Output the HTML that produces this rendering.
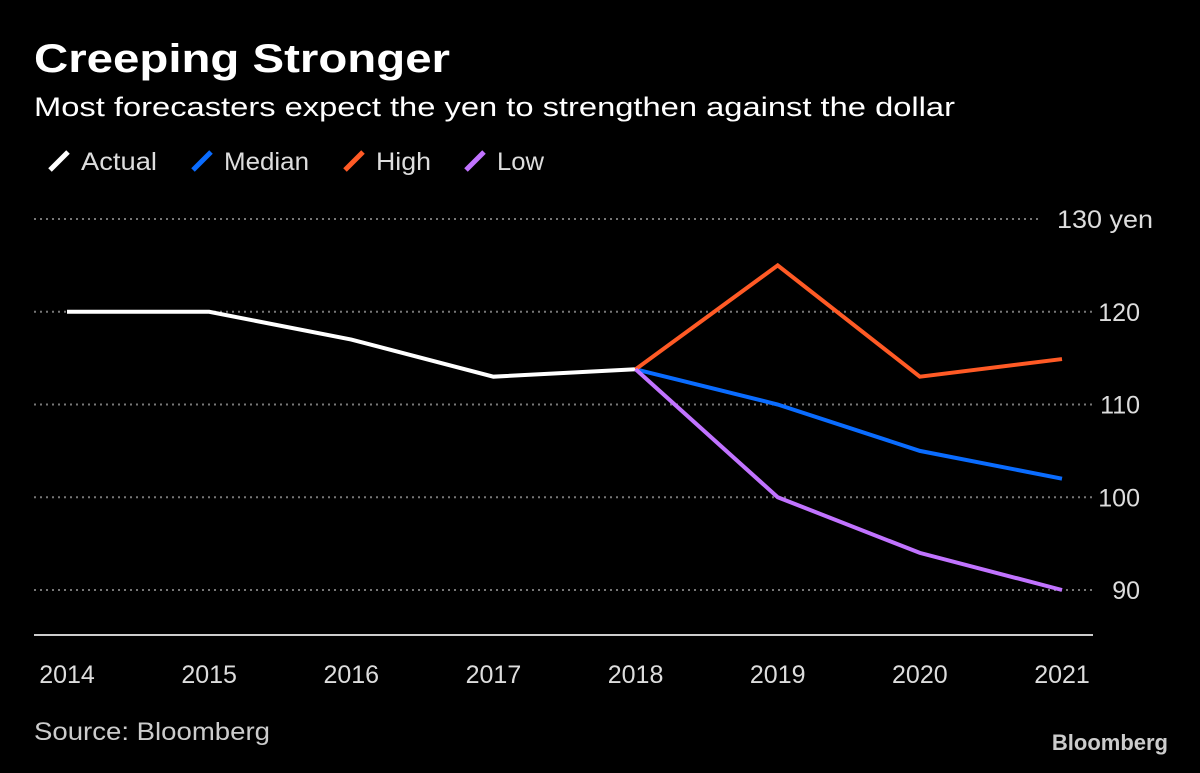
<!DOCTYPE html>
<html><head><meta charset="utf-8"><style>
body{margin:0;background:#000;width:1200px;height:768px;overflow:hidden;font-family:"Liberation Sans",sans-serif;color:#fff}
</style></head><body>
<svg width="1200" height="768" xmlns="http://www.w3.org/2000/svg">
<text x="34" y="72" font-size="40" font-weight="bold" fill="#fff" textLength="416" lengthAdjust="spacingAndGlyphs">Creeping Stronger</text>
<text x="34" y="116" font-size="27" fill="#fff" textLength="921" lengthAdjust="spacingAndGlyphs">Most forecasters expect the yen to strengthen against the dollar</text>
<g id="legend" font-size="25" fill="#ddd"></g>
<g id="grid"></g><g id="lines"></g><g id="xt"></g>
<line x1="34" x2="1093" y1="635" y2="635" stroke="#ccc" stroke-width="2"/>
<text x="34" y="740" font-size="25" fill="#ccc" textLength="236" lengthAdjust="spacingAndGlyphs">Source: Bloomberg</text>
<text x="1168" y="750" font-size="22" font-weight="bold" fill="#ccc" text-anchor="end">Bloomberg</text>
</svg>
<script>
const years=[2014,2015,2016,2017,2018,2019,2020,2021];
const yTicks=[90,100,110,120,130];
const actual=[120,120,117,113,113.8,null,null,null];
const median=[null,null,null,null,113.8,110,105,102];
const high=[null,null,null,null,113.8,125,113,114.9];
const low=[null,null,null,null,113.8,100,94,90];
const series=[["Actual",actual,"#ffffff"],["Median",median,"#0a6cff"],["High",high,"#ff5a25"],["Low",low,"#c173ff"]];
const NS="http://www.w3.org/2000/svg";
const xs=i=>67+i*(1062-67)/7;
const ys=v=>590-(v-90)*(590-219)/40;
function mk(p,t,a){const e=document.createElementNS(NS,t);for(const k in a)e.setAttribute(k,a[k]);document.getElementById(p).appendChild(e);return e;}
yTicks.forEach(v=>{
 const g=mk('grid','line',{x1:34,x2:v==130?1040:1093,y1:ys(v),y2:ys(v),stroke:'#777','stroke-width':2,'stroke-dasharray':'2 4'});
 
 
 const a={x:v==130?1057:1140,y:ys(v)+9,'font-size':25,fill:'#ddd','text-anchor':v==130?'start':'end'};
 if(v==130){a.textLength=96;a.lengthAdjust='spacingAndGlyphs';}
 const t=mk('grid','text',a);
 t.textContent=v==130?'130 yen':v;
 
 
});
years.forEach((y,i)=>{
 const t=mk('xt','text',{x:xs(i),y:683,'font-size':25,fill:'#ddd','text-anchor':'middle'});
 t.textContent=y;
 
 
});
series.forEach(([n,d,c])=>{
 const pts=d.map((v,i)=>v==null?null:xs(i)+','+ys(v)).filter(Boolean).join(' ');
 const l=mk('lines','polyline',{points:pts,fill:'none',stroke:c,'stroke-width':4});
 
 
});
const lx=[50,193,345,466];
const lw=[76,85,55,47];
series.forEach(([n,d,c],i)=>{
 const m=mk('legend','line',{x1:lx[i],y1:170,x2:lx[i]+18,y2:152,stroke:c,'stroke-width':5});
 
 
 const t=mk('legend','text',{x:lx[i]+31,y:170,textLength:lw[i],lengthAdjust:'spacingAndGlyphs'});
 t.textContent=n;
 
 
});
</script>
</body></html>
